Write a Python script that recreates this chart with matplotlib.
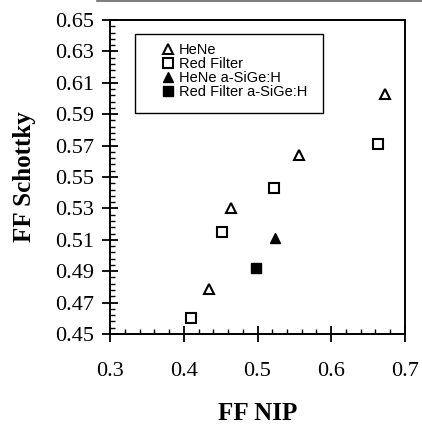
import matplotlib
matplotlib.use("Agg")
import matplotlib.pyplot as plt
from matplotlib.patches import Rectangle
from matplotlib.lines import Line2D
from matplotlib.ticker import MultipleLocator, FormatStrFormatter

# Data
hene_x = [0.434, 0.464, 0.556, 0.673]
hene_y = [0.4785, 0.530, 0.564, 0.603]
red_x = [0.410, 0.452, 0.523, 0.663]
red_y = [0.460, 0.515, 0.543, 0.571]
hene_sige_x = [0.524]
hene_sige_y = [0.511]
red_sige_x = [0.498]
red_sige_y = [0.492]

labels = ["HeNe", "Red Filter", "HeNe a-SiGe:H", "Red Filter a-SiGe:H"]

fig = plt.figure(figsize=(4.22, 4.26), dpi=100)
ax = fig.add_axes([110/422, 1-334/426, 295/422, 314/426])

ms = 7.5
ax.plot(hene_x, hene_y, ls='none', marker='^', ms=ms, mfc='white', mec='black', mew=1.5, label=labels[0])
ax.plot(red_x, red_y, ls='none', marker='s', ms=ms, mfc='white', mec='black', mew=1.5, label=labels[1])
ax.plot(hene_sige_x, hene_sige_y, ls='none', marker='^', ms=ms, mfc='black', mec='black', mew=1.0, label=labels[2])
ax.plot(red_sige_x, red_sige_y, ls='none', marker='s', ms=ms, mfc='black', mec='black', mew=1.0, label=labels[3])

ax.set_xlim(0.3, 0.7)
ax.set_ylim(0.45, 0.65)
ax.xaxis.set_major_locator(MultipleLocator(0.1))
ax.xaxis.set_minor_locator(MultipleLocator(0.02))
ax.yaxis.set_major_locator(MultipleLocator(0.02, offset=0.01))
ax.yaxis.set_minor_locator(MultipleLocator(0.004, offset=0.002))
ax.xaxis.set_major_formatter(FormatStrFormatter('%.1f'))
ax.yaxis.set_major_formatter(FormatStrFormatter('%.2f'))

for s in ax.spines.values():
    s.set_linewidth(1.4)
    s.set_color('black')

ax.tick_params(which='major', direction='inout', length=11, width=1.3, top=False, right=False)
ax.tick_params(which='minor', direction='in', length=3.5, width=1.0, top=False, right=False)
ax.tick_params(axis='x', which='major', pad=15)
ax.tick_params(axis='y', which='major', pad=6)
for lab in ax.get_xticklabels() + ax.get_yticklabels():
    lab.set_fontfamily('Liberation Serif')
    lab.set_fontsize(16)

ax.set_xlabel("FF NIP", fontfamily='Liberation Serif', fontweight='bold', fontsize=18)
ax.set_ylabel("FF Schottky", fontfamily='Liberation Serif', fontweight='bold', fontsize=18)
ax.xaxis.set_label_coords(0.5, -0.218)
ax.yaxis.set_label_coords(-0.25, 0.5)

# legend box
ax.add_patch(Rectangle((0.085, 0.704), 0.637, 0.251, transform=ax.transAxes,
                       fill=True, facecolor='white', edgecolor='black', lw=1.0, zorder=3))
leg = ax.legend(loc='upper left', bbox_to_anchor=(0.156, 0.945), borderaxespad=0,
                frameon=False, prop={'family': 'Liberation Sans', 'size': 10.5},
                handlelength=0.8, handletextpad=0.35, labelspacing=0.0, markerscale=1.0)
leg.set_zorder(4)

# scan artifact line at top
fig.add_artist(Line2D([97/422, 1.0], [1-1/426, 1-1/426], transform=fig.transFigure, color='0.4', lw=1.2))

fig.savefig("out.png", dpi=100)
